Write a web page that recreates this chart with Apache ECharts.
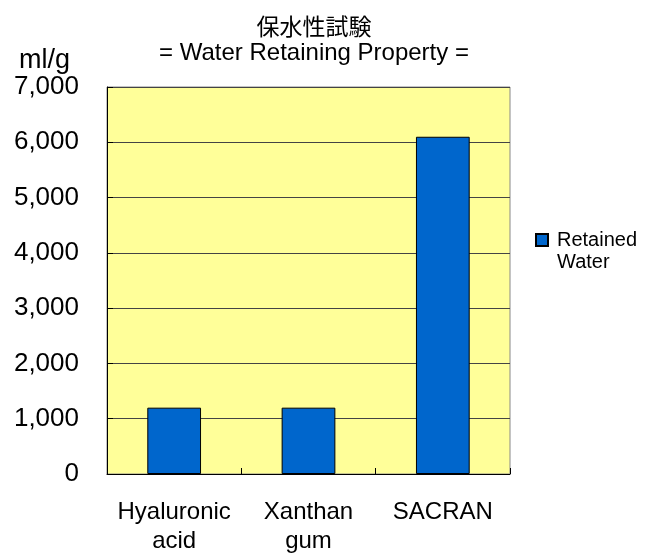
<!DOCTYPE html>
<html>
<head>
<meta charset="utf-8">
<script src="https://cdn.jsdelivr.net/npm/echarts@6/dist/echarts.min.js"></script>
<style>
  html, body { margin: 0; padding: 0; background: #fff; }
  #chart { width: 650px; height: 556px; }
</style>
</head>
<body>
<div id="chart"></div>
<script>
// 保水性試験のデータ
var categories = ['Hyaluronic\nacid', 'Xanthan\ngum', 'SACRAN'];
var retainedWater = [1200, 1200, 6100];
var seriesName = 'Retained Water';
var yTicks = [0, 1000, 2000, 3000, 4000, 5000, 6000, 7000];

var myChart = echarts.init(document.getElementById('chart'));
var font = 'Liberation Sans, Arial, sans-serif';

var option = {
  animation: false,
  textStyle: { fontFamily: font },
  title: [
    {
      text: '保水性試験',
      left: 309, top: 10, textAlign: 'center',
      textStyle: { fontFamily: 'Noto Sans CJK JP', fontSize: 23, fontWeight: 'normal', color: '#000' }
    },
    {
      text: '= Water Retaining Property =',
      left: 309, top: 36, textAlign: 'center',
      textStyle: { fontFamily: font, fontSize: 24, fontWeight: 'normal', color: '#000' }
    },
    {
      text: 'ml/g',
      left: 14, top: 42,
      textStyle: { fontFamily: font, fontSize: 27, fontWeight: 'normal', color: '#000' }
    }
  ],
  legend: {
    left: 530, top: 224,
    orient: 'vertical',
    itemWidth: 12, itemHeight: 34,
    // 四角を1行目にそろえる
    icon: 'path://M0,0L12,0L12,12L0,12Z M0,34L0,34',
    data: [seriesName],
    formatter: function (n) { return n.replace(' ', '\n'); },
    textStyle: { fontFamily: font, fontSize: 20, color: '#000', lineHeight: 22, padding: [0, 0, 0, 4] }
  },
  grid: {
    left: 107, right: 140, top: 87, bottom: 77,
    show: true,
    backgroundColor: '#ffff99',
    borderColor: '#888',
    borderWidth: 1
  },
  xAxis: {
    type: 'category',
    data: categories,
    axisLine: { lineStyle: { color: '#000', width: 1 } },
    axisTick: { show: true, inside: true, length: 6, lineStyle: { color: '#000' } },
    axisLabel: { interval: 0, fontFamily: font, fontSize: 24, color: '#000', margin: 24, lineHeight: 29 }
  },
  yAxis: {
    type: 'value',
    min: yTicks[0],
    max: yTicks[yTicks.length - 1],
    interval: 1000,
    axisLine: { show: true, lineStyle: { color: '#000', width: 1 } },
    axisTick: { show: true, inside: true, length: 6, lineStyle: { color: '#000' } },
    splitLine: { show: true, lineStyle: { color: '#444', width: 1 } },
    axisLabel: {
      fontFamily: font, fontSize: 26, color: '#000', margin: 28,
      formatter: function (v) { return v.toLocaleString('en-US'); }
    }
  },
  series: [{
    name: seriesName,
    type: 'bar',
    data: retainedWater,
    barWidth: '40%',
    itemStyle: { color: '#0066cc', borderColor: '#000', borderWidth: 1 }
  }]
};
myChart.setOption(option);
window.onresize = myChart.resize;
</script>
</body>
</html>
